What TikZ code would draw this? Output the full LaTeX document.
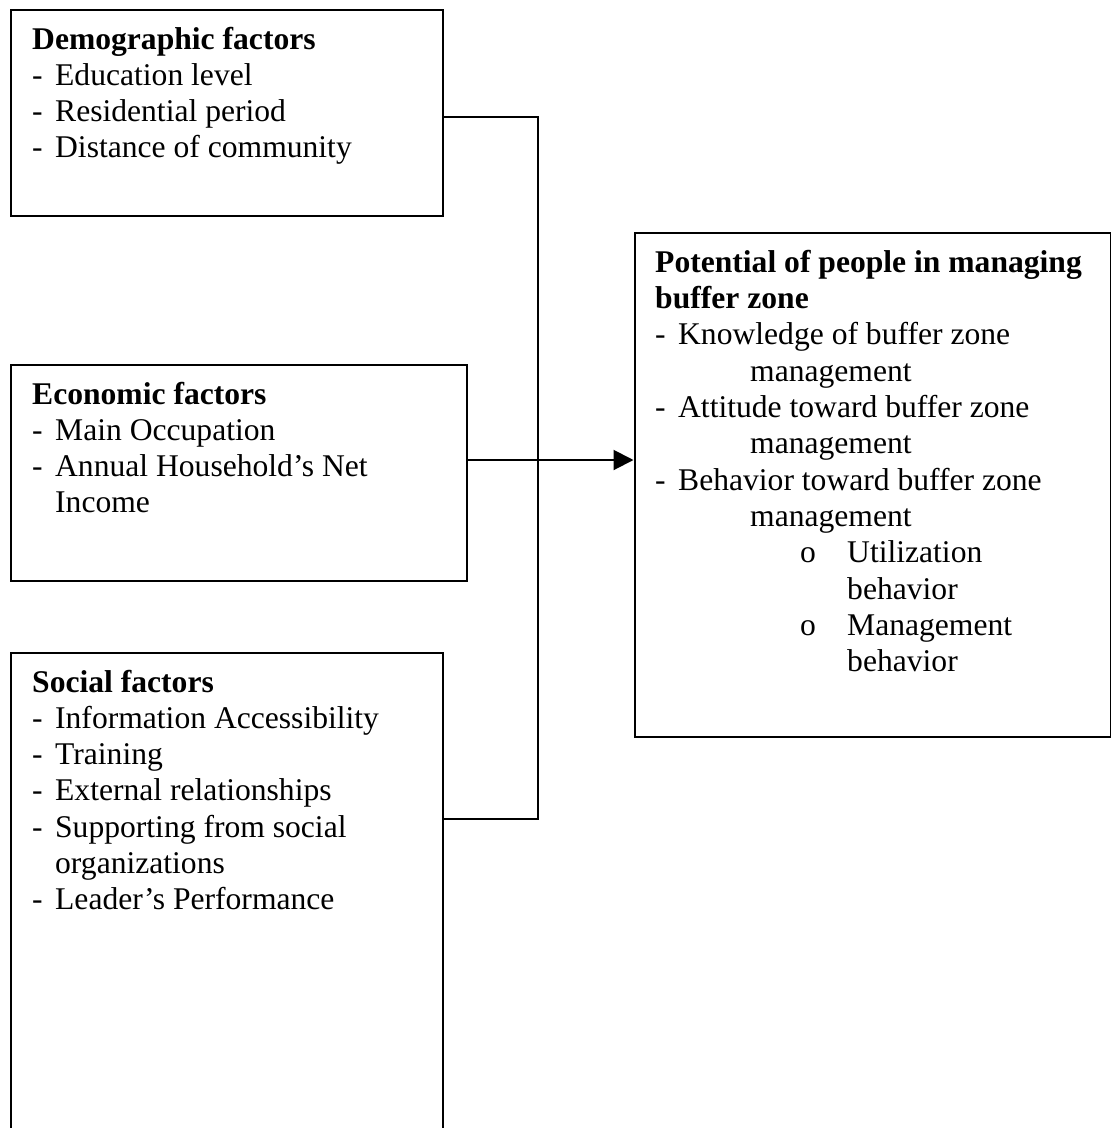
\documentclass[tikz,border=0pt]{standalone}
\usepackage{fontspec}
\setmainfont{Liberation Serif}
\usetikzlibrary{arrows.meta}

% list entries: a hyphen marker followed by the entry text
\newcommand\itm[1]{\makebox[23pt][l]{-}#1}
\newcommand\cont[1]{\hspace*{23pt}#1}

\begin{document}
\begin{tikzpicture}[x=1pt, y=-1pt,
  box/.style={draw, line width=2pt, rectangle, inner sep=0pt, anchor=north west},
  boxtext/.style={anchor=base west, inner sep=0pt,
    font=\fontsize{31.6pt}{36.3pt}\selectfont},
  link/.style={line width=2pt},
  arrowlink/.style={link, -{Triangle[length=20pt, width=20pt]}},
]
\clip (0,0) rectangle (1111,1128);
\fill[white] (0,0) rectangle (1111,1128);

% factor boxes
\node[box, minimum width=432pt, minimum height=206pt] (dem) at (9.5,9) {};
\node[box, minimum width=456.5pt, minimum height=216pt] (eco) at (9.5,364) {};
\node[box, minimum width=432pt, minimum height=520pt] (soc) at (9.5,652) {};
% outcome box
\node[box, minimum width=476.5pt, minimum height=504pt] (pot) at (633.5,231.5) {};

% box contents
\node[boxtext] (demtxt) at (32,49) {\parbox[t]{420pt}{\raggedright
  \textbf{Demographic factors}\\
  \itm{Education level}\\
  \itm{Residential period}\\
  \itm{Distance of community}}};

\node[boxtext] (ecotxt) at (32,404) {\parbox[t]{430pt}{\raggedright
  \textbf{Economic factors}\\
  \itm{Main Occupation}\\
  \itm{Annual Household’s Net}\\
  \cont{Income}}};

\node[boxtext] (soctxt) at (32,692) {\parbox[t]{420pt}{\raggedright
  \textbf{Social factors}\\
  \itm{Information Accessibility}\\
  \itm{Training}\\
  \itm{External relationships}\\
  \itm{Supporting from social}\\
  \cont{organizations}\\
  \itm{Leader’s Performance}}};

\node[boxtext] (pottxt) at (655,272.3) {\parbox[t]{450pt}{\raggedright
  \textbf{Potential of people in managing}\\
  \textbf{buffer zone}\\
  \itm{Knowledge of buffer zone}\\
  \hspace*{95pt}management\\
  \itm{Attitude toward buffer zone}\\
  \hspace*{95pt}management\\
  \itm{Behavior toward buffer zone}\\
  \hspace*{95pt}management\\
  \hspace*{145pt}\makebox[47pt][l]{o}Utilization\\
  \hspace*{192pt}behavior\\
  \hspace*{145pt}\makebox[47pt][l]{o}Management\\
  \hspace*{192pt}behavior}};

% bracket joining demographic and social factors
\coordinate (jtop) at (538,117);
\coordinate (jbot) at (538,819);
\draw[link] (dem.east |- jtop) -- (jtop) -- (jbot) -- (soc.east |- jbot);

% economic factors to outcome
\draw[arrowlink] ([yshift=13pt]eco.east) -- ([yshift=13pt]eco.east -| pot.west);
\end{tikzpicture}
\end{document}
